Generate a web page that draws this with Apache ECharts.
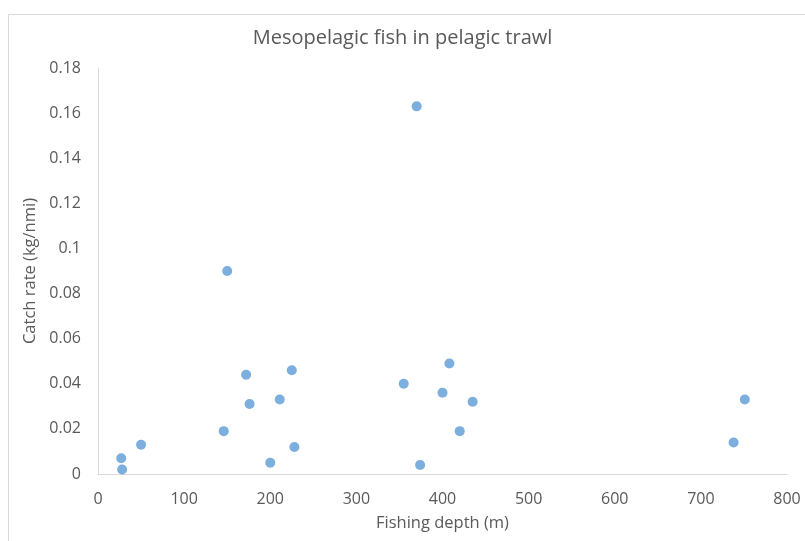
<!DOCTYPE html>
<html>
<head>
<meta charset="utf-8">
<script src="https://cdn.jsdelivr.net/npm/echarts@6/dist/echarts.min.js"></script>
<style>html,body{margin:0;padding:0;background:#fff;}#c{width:805px;height:541px;}</style>
</head>
<body>
<div id="c"></div>
<script>
var depth = [27, 28, 50, 146, 150, 172, 176, 200, 211, 225, 228, 370, 355, 374, 400, 408, 420, 435, 738, 751];
var catchRate = [0.007, 0.002, 0.013, 0.019, 0.090, 0.044, 0.031, 0.005, 0.033, 0.046, 0.012, 0.163, 0.040, 0.004, 0.036, 0.049, 0.019, 0.032, 0.014, 0.033];
var titleText = 'Mesopelagic fish in pelagic trawl';
var xTitle = 'Fishing depth (m)';
var yTitle = 'Catch rate (kg/nmi)';

var points = depth.map(function (d, i) { return [d, catchRate[i]]; });
var font = 'Open Sans';
var chart = echarts.init(document.getElementById('c'));
chart.setOption({
  animation: false,
  backgroundColor: '#fff',
  graphic: [{
    type: 'rect', left: 6, top: 12,
    shape: { width: 830, height: 560 },
    style: { fill: 'none', stroke: '#d9d9d9', lineWidth: 1 }
  }],
  title: {
    text: titleText, left: 'center', top: 23,
    textStyle: { fontFamily: font, fontSize: 20, fontWeight: 'normal', color: '#595959' }
  },
  grid: { left: 98, right: 18, top: 68, bottom: 67, containLabel: false },
  xAxis: {
    type: 'value', min: 0, max: 800, interval: 100,
    name: xTitle, nameLocation: 'middle', nameGap: 41,
    nameTextStyle: { fontFamily: font, fontSize: 16.5, color: '#595959' },
    axisLine: { show: true, lineStyle: { color: '#d9d9d9', width: 1 } },
    axisTick: { show: false },
    splitLine: { show: false },
    axisLabel: { fontFamily: font, fontSize: 16, color: '#595959', margin: 17 }
  },
  yAxis: {
    type: 'value', min: 0, max: 0.18, interval: 0.02,
    name: yTitle, nameLocation: 'middle', nameGap: 57, nameRotate: 90,
    nameTextStyle: { fontFamily: font, fontSize: 16.5, color: '#595959' },
    axisLine: { show: true, lineStyle: { color: '#d9d9d9', width: 1 } },
    axisTick: { show: false },
    splitLine: { show: false },
    axisLabel: { fontFamily: font, fontSize: 16, color: '#595959', margin: 17,
      formatter: function (v) { return String(Math.round(v * 100) / 100); } }
  },
  series: [{
    type: 'scatter', data: points, symbol: 'circle', symbolSize: 10,
    itemStyle: { color: '#5b9bd5' }
  }]
});
</script>
</body>
</html>
